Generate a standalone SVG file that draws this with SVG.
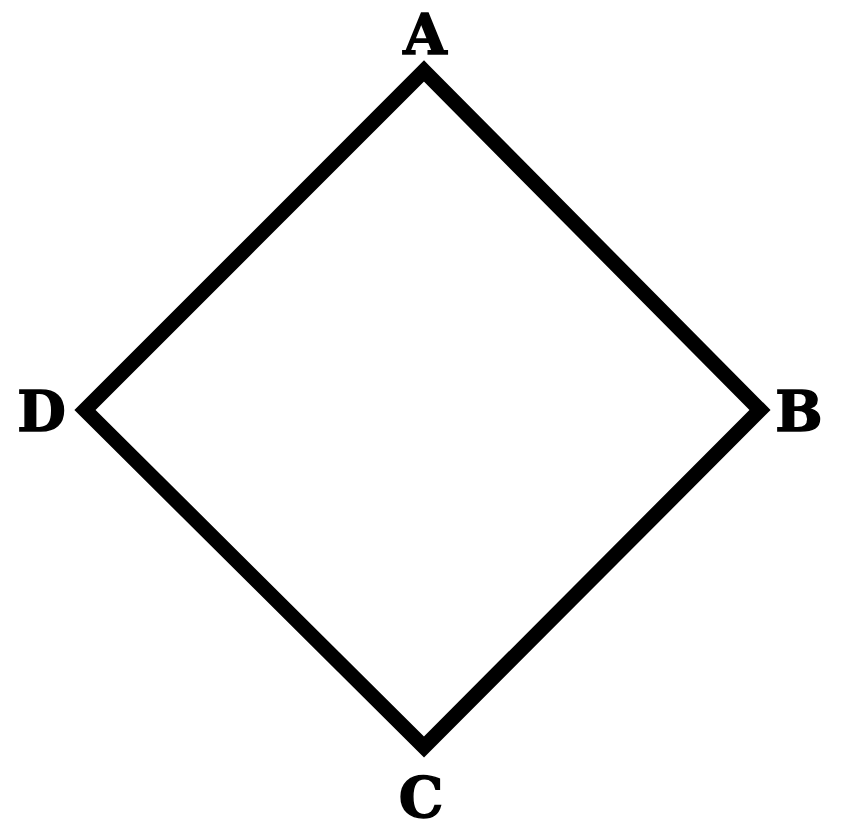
<svg xmlns="http://www.w3.org/2000/svg" width="844" height="832" viewBox="0 0 844 832">
<style>
.lbl{font-family:"DejaVu Serif","Liberation Serif",serif;font-weight:900;font-size:56px;fill:#000;text-anchor:middle;stroke:#000;stroke-width:1.5}
.edge{fill:none;stroke:#000;stroke-width:15;stroke-linejoin:miter;stroke-miterlimit:10}
</style>
<rect width="844" height="832" fill="#fff"/>
<g id="connectors">
<polygon class="edge" points="424,71 760,410 424,747 85,410"/>
</g>
<g id="A"><text class="lbl" x="425" y="54">A</text></g>
<g id="B"><text class="lbl" x="799" y="431">B</text></g>
<g id="C"><text class="lbl" x="421" y="817">C</text></g>
<g id="D"><text class="lbl" x="41.5" y="431">D</text></g>
</svg>
